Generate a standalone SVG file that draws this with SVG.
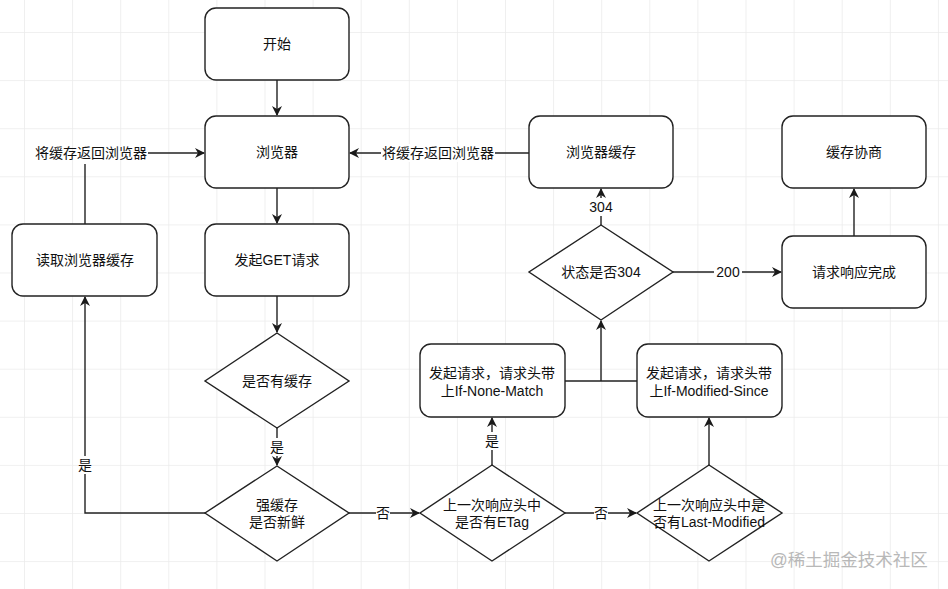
<svg xmlns="http://www.w3.org/2000/svg" width="948" height="589" viewBox="0 0 948 589">
<defs>
<pattern id="grid" patternUnits="userSpaceOnUse" x="24" y="32" width="48.1" height="48.1">
<path d="M0 0H48.1M0 0V48.1" fill="none" stroke="#ececec" stroke-width="1.6"/>
</pattern>
<marker id="arr" viewBox="0 0 10 10" refX="9" refY="5" markerWidth="10" markerHeight="10" markerUnits="userSpaceOnUse" orient="auto">
<path d="M0 0L10 5L0 10L3 5Z" fill="#1a1a1a"/>
</marker>
<style>
.n rect,.n polygon{fill:#fff;stroke:#222;stroke-width:1.4}
text{font-family:"Liberation Sans","Noto Sans CJK SC",sans-serif;font-size:14px;fill:#111;text-anchor:middle;dominant-baseline:central}
.c path{fill:none;stroke:#222;stroke-width:1.4}
.bg{fill:#fff}
</style>
</defs>
<rect width="948" height="589" fill="#fff"/>
<rect width="948" height="589" fill="url(#grid)"/>

<g id="connectors" class="c">
<path d="M277 80V115" marker-end="url(#arr)"/>
<path d="M277 188V223" marker-end="url(#arr)"/>
<path d="M277 296V332" marker-end="url(#arr)"/>
<path d="M277 428V465" marker-end="url(#arr)"/>
<path d="M205 513H85V297" marker-end="url(#arr)"/>
<path d="M85 224V164"/>
<path d="M148 153H204" marker-end="url(#arr)"/>
<path d="M349 513H419" marker-end="url(#arr)"/>
<path d="M565 513H636" marker-end="url(#arr)"/>
<path d="M492 465V418" marker-end="url(#arr)"/>
<path d="M709 465V418" marker-end="url(#arr)"/>
<path d="M565 381H637M601 381V321" marker-end="url(#arr)"/>
<path d="M601 225V189" marker-end="url(#arr)"/>
<path d="M529 153H350" marker-end="url(#arr)"/>
<path d="M673 272H781" marker-end="url(#arr)"/>
<path d="M854 236V189" marker-end="url(#arr)"/>
<g>
<rect class="bg" x="381" y="144" width="114" height="18"/>
<text x="438" y="153">将缓存返回浏览器</text>
<text x="91" y="153">将缓存返回浏览器</text>
<rect class="bg" x="78" y="456" width="14" height="18"/>
<text x="85" y="465">是</text>
<rect class="bg" x="270" y="438" width="14" height="18"/>
<text x="277" y="447">是</text>
<rect class="bg" x="376" y="504" width="14" height="18"/>
<text x="383" y="513">否</text>
<rect class="bg" x="594" y="504" width="14" height="18"/>
<text x="601" y="513">否</text>
<rect class="bg" x="485" y="432" width="14" height="18"/>
<text x="492" y="441">是</text>
<rect class="bg" x="588" y="198" width="26" height="18"/>
<text x="601" y="207">304</text>
<rect class="bg" x="714" y="263" width="28" height="18"/>
<text x="728" y="272">200</text>
</g>
</g>

<g id="start" class="n"><rect x="205" y="8" width="144" height="72" rx="11"/><text x="277" y="44">开始</text></g>
<g id="browser" class="n"><rect x="205" y="116" width="144" height="72" rx="11"/><text x="277" y="152">浏览器</text></g>
<g id="get" class="n"><rect x="205" y="224" width="144" height="72" rx="11"/><text x="277" y="260">发起GET请求</text></g>
<g id="hascache" class="n"><polygon points="277,333 349,381 277,428 205,381"/><text x="277" y="381">是否有缓存</text></g>
<g id="fresh" class="n"><polygon points="277,466 349,513 277,561 205,513"/><text x="277" y="505">强缓存</text><text x="277" y="522">是否新鲜</text></g>
<g id="readcache" class="n"><rect x="12" y="224" width="145" height="72" rx="11"/><text x="85" y="260">读取浏览器缓存</text></g>
<g id="etag" class="n"><polygon points="492,465 565,513 492,561 420,513"/><text x="492" y="505">上一次响应头中</text><text x="492" y="522">是否有ETag</text></g>
<g id="lastmod" class="n"><polygon points="709,465 782,513 709,561 637,513"/><text x="709" y="505">上一次响应头中是</text><text x="709" y="522">否有Last-Modified</text></g>
<g id="inm" class="n"><rect x="420" y="344" width="145" height="73" rx="11"/><text x="492" y="373">发起请求，请求头带</text><text x="492" y="391">上If-None-Match</text></g>
<g id="ims" class="n"><rect x="637" y="344" width="145" height="73" rx="11"/><text x="709" y="373">发起请求，请求头带</text><text x="709" y="391">上If-Modified-Since</text></g>
<g id="is304" class="n"><polygon points="601,225 673,272 601,320 529,272"/><text x="601" y="272">状态是否304</text></g>
<g id="browsercache" class="n"><rect x="529" y="116" width="144" height="72" rx="11"/><text x="601" y="152">浏览器缓存</text></g>
<g id="done" class="n"><rect x="782" y="236" width="144" height="72" rx="11"/><text x="854" y="272">请求响应完成</text></g>
<g id="negotiate" class="n"><rect x="782" y="116" width="144" height="72" rx="11"/><text x="854" y="152">缓存协商</text></g>

<text x="849" y="560" style="font-size:17.5px;fill:#b8b8b8">@稀土掘金技术社区</text>
</svg>
